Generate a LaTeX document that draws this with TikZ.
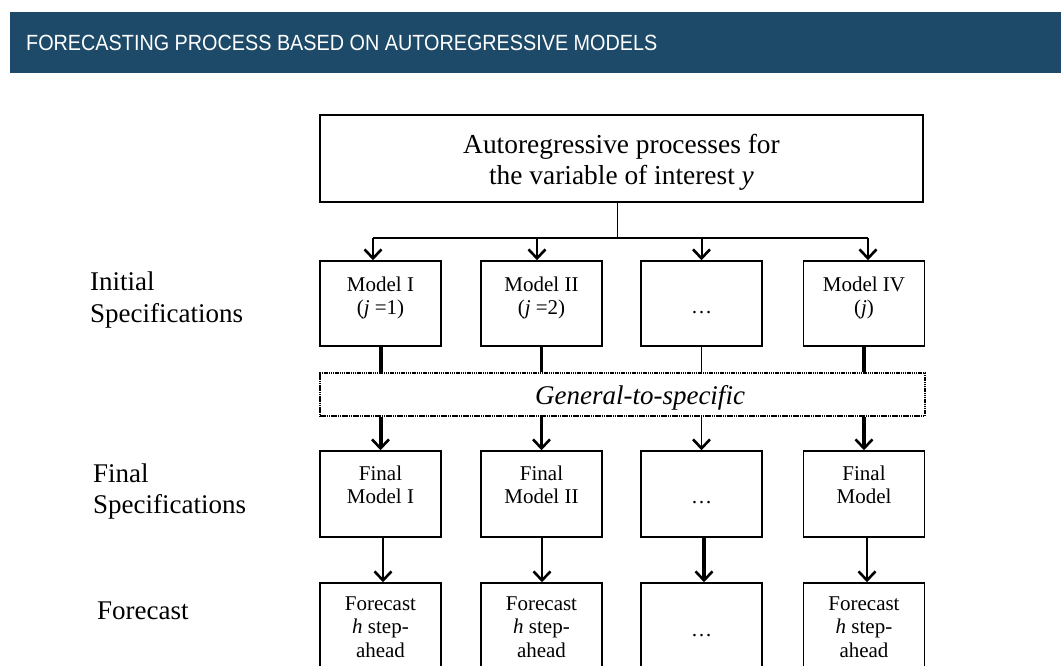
\documentclass[tikz,border=0pt]{standalone}
\usepackage{fontspec}
\setmainfont{Liberation Serif}
\newfontfamily\titlefont[FakeStretch=0.9]{Liberation Sans}
\usetikzlibrary{arrows.meta}
\definecolor{bandblue}{HTML}{1D4A68}
\begin{document}
\begin{tikzpicture}[x=1pt,y=-1pt,
  box/.style={draw=black, line width=1.5pt, minimum width=121pt, minimum height=85pt, inner sep=0pt},
  fbox/.style={box, minimum height=86pt},
  qbox/.style={box, minimum height=110pt},
  btxt/.style={align=center, font=\fontsize{21}{23.5}\selectfont, anchor=north, inner sep=0pt},
  dots/.style={font=\fontsize{21}{23.5}\selectfont, anchor=base, inner sep=0pt},
  side/.style={anchor=base west, font=\fontsize{27}{31}\selectfont, inner sep=0pt},
  arr/.style={-{Straight Barb[length=9pt,width=17pt,line width=2.6pt]}},
  thinln/.style={line width=1.4pt},
  midln/.style={line width=2.2pt},
  thickln/.style={line width=4pt},
]
\useasboundingbox (0,0) rectangle (1061,666);
\clip (0,0) rectangle (1061,666);

% banner
\node[fill=bandblue, minimum width=1051pt, minimum height=61pt, inner sep=0pt, anchor=north west] (banner) at (10,12) {};
\node[anchor=base west, inner sep=0pt, text=white, font=\titlefont\fontsize{22}{26}\selectfont] (title) at (26,51) {FORECASTING PROCESS BASED ON AUTOREGRESSIVE MODELS};

% top box
\node[draw=black, line width=1.5pt, minimum width=603pt, minimum height=87pt, inner sep=0pt] (top) at (621.5,158.5) {};
\node[anchor=north, align=center, inner sep=0pt, font=\fontsize{27.4}{31}\selectfont] (toptxt) at (621.5,134) {Autoregressive processes for\\the variable of interest \textit{y}};

% side labels
\node[side] (lab1a) at (90,290) {Initial};
\node[side] (lab1b) at (90,322) {Specifications};
\node[side] (lab2a) at (93,482) {Final};
\node[side] (lab2b) at (93,513) {Specifications};
\node[side] (lab3) at (97,619) {Forecast};

% model boxes
\node[box] (m1) at (380.5,303.5) {};
\node[box] (m2) at (541.5,303.5) {};
\node[box] (m3) at (701.5,303.5) {};
\node[box] (m4) at (864,303.5) {};
\node[btxt] (m1t) at ([yshift=-16pt]m1.north) {Model I\\(\textit{j} =1)};
\node[btxt] (m2t) at ([yshift=-16pt]m2.north) {Model II\\(\textit{j} =2)};
\node[dots] (m3t) at ([yshift=-53pt]m3.north) {…};
\node[btxt] (m4t) at ([yshift=-16pt]m4.north) {Model IV\\(\textit{j})};

% general-to-specific
\node[draw=black, line width=2.6pt, dash pattern=on 1.5pt off 0.7pt, minimum width=605pt, minimum height=43pt, inner sep=0pt] (g2s) at (622.5,394.5) {};
\node[anchor=base, inner sep=0pt, font=\fontsize{27}{31}\selectfont\itshape] (g2st) at (640,404) {General-to-specific};

% final boxes
\node[fbox] (f1) at (380.5,494) {};
\node[fbox] (f2) at (541.5,494) {};
\node[fbox] (f3) at (701.5,494) {};
\node[fbox] (f4) at (864,494) {};
\node[btxt] (f1t) at ([yshift=-15pt]f1.north) {Final\\Model I};
\node[btxt] (f2t) at ([yshift=-15pt]f2.north) {Final\\Model II};
\node[dots] (f3t) at ([yshift=-53pt]f3.north) {…};
\node[btxt] (f4t) at ([yshift=-15pt]f4.north) {Final\\Model};

% forecast boxes
\node[qbox] (q1) at (380.5,638) {};
\node[qbox] (q2) at (541.5,638) {};
\node[qbox] (q3) at (701.5,638) {};
\node[qbox] (q4) at (864,638) {};
\node[btxt] (q1t) at ([yshift=-14pt]q1.north) {Forecast\\\textit{h} step-\\ahead};
\node[btxt] (q2t) at ([yshift=-14pt]q2.north) {Forecast\\\textit{h} step-\\ahead};
\node[dots] (q3t) at ([yshift=-54pt]q3.north) {…};
\node[btxt] (q4t) at ([yshift=-14pt]q4.north) {Forecast\\\textit{h} step-\\ahead};

% distribution lines
\coordinate (a1) at ([xshift=-7.5pt]m1.north);
\coordinate (a2) at ([xshift=-4.5pt]m2.north);
\coordinate (a3) at (m3.north);
\coordinate (a4) at ([xshift=4pt]m4.north);
\coordinate (hub) at ([xshift=-4.5pt]top.south);
\draw[line width=1pt] (hub) -- (hub |- 0,238);
\draw[line width=2pt] (a1 |- 0,238) -- (a4 |- 0,238);
\foreach \i in {1,2,3,4}{
  \draw[arr, line width=2pt] (a\i |- 0,238) -- (a\i);
}

% model -> general-to-specific
\draw[thickln] (m1.south) -- (m1.south |- g2s.north);
\draw[midln] (m2.south) -- (m2.south |- g2s.north);
\draw[thinln] (m3.south) -- (m3.south |- g2s.north);
\draw[thickln] (m4.south) -- (m4.south |- g2s.north);

% general-to-specific -> final
\draw[arr, thickln] (f1.north |- g2s.south) -- (f1.north);
\draw[arr, midln] (f2.north |- g2s.south) -- (f2.north);
\draw[arr, thinln] (f3.north |- g2s.south) -- (f3.north);
\draw[arr, thickln] (f4.north |- g2s.south) -- (f4.north);

% final -> forecast
\draw[arr, line width=2.5pt] ([xshift=2.5pt]f1.south) -- ([xshift=2.5pt]q1.north);
\draw[arr, line width=2.5pt] ([xshift=0.5pt]f2.south) -- ([xshift=0.5pt]q2.north);
\draw[arr, thickln] ([xshift=2.5pt]f3.south) -- ([xshift=2.5pt]q3.north);
\draw[arr, line width=2pt] ([xshift=3pt]f4.south) -- ([xshift=3pt]q4.north);
\end{tikzpicture}
\end{document}
